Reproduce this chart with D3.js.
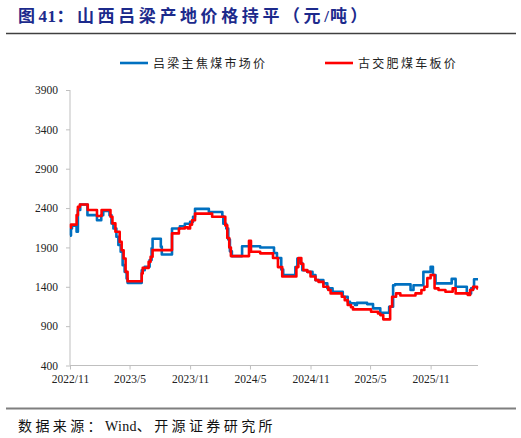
<!DOCTYPE html>
<html>
<head>
<meta charset="utf-8">
<script src="https://cdn.jsdelivr.net/npm/d3@7"></script>
<style>
  html, body { margin: 0; padding: 0; background: #fff; }
  svg { display: block; }
</style>
</head>
<body>
<div id="main"></div>
<script>
// series: change points [date, price], drawn as steps
var seriesNames = ["吕梁主焦煤市场价", "古交肥煤车板价"];
var seriesColors = ["#0070C0", "#FF0000"];

var lvliang = [
  ["2022-11-01", 2050], ["2022-11-04", 2140], ["2022-11-07", 2175], ["2022-11-21", 2100],
  ["2022-11-25", 2375], ["2022-12-02", 2445], ["2022-12-24", 2310], ["2023-01-22", 2245],
  ["2023-02-04", 2310], ["2023-02-10", 2365], ["2023-03-01", 2310], ["2023-03-07", 2205],
  ["2023-03-13", 2140], ["2023-03-22", 2035], ["2023-03-28", 1930], ["2023-04-04", 1845],
  ["2023-04-10", 1675], ["2023-04-16", 1590], ["2023-04-22", 1505], ["2023-04-25", 1450],
  ["2023-06-07", 1610], ["2023-06-16", 1655], ["2023-07-01", 1740], ["2023-07-07", 1890],
  ["2023-07-10", 2010], ["2023-08-04", 1910], ["2023-08-07", 1810], ["2023-09-07", 2140],
  ["2023-10-01", 2170], ["2023-10-16", 2200], ["2023-11-01", 2225], ["2023-11-10", 2290],
  ["2023-11-16", 2390], ["2023-12-28", 2350], ["2024-02-07", 2300], ["2024-02-10", 2200],
  ["2024-02-19", 2140], ["2024-02-25", 2000], ["2024-03-01", 1850], ["2024-03-07", 1790],
  ["2024-04-07", 1915], ["2024-06-01", 1900], ["2024-07-13", 1830], ["2024-07-22", 1765],
  ["2024-08-04", 1620], ["2024-08-10", 1550], ["2024-09-16", 1650], ["2024-09-22", 1760],
  ["2024-10-01", 1700], ["2024-10-07", 1610], ["2024-10-22", 1590], ["2024-11-07", 1550],
  ["2024-11-16", 1485], ["2024-12-10", 1443], ["2024-12-22", 1380], ["2025-01-07", 1337],
  ["2025-02-07", 1273], ["2025-02-22", 1210], ["2025-03-01", 1190], ["2025-03-16", 1168],
  ["2025-03-22", 1195], ["2025-04-22", 1180], ["2025-05-10", 1126], ["2025-06-01", 1070],
  ["2025-06-28", 1146], ["2025-07-10", 1420], ["2025-07-16", 1430], ["2025-09-01", 1360],
  ["2025-09-10", 1420], ["2025-10-10", 1590], ["2025-11-01", 1655], ["2025-11-08", 1550],
  ["2025-11-16", 1443], ["2026-01-04", 1500], ["2026-01-16", 1400], ["2026-02-19", 1316],
  ["2026-03-04", 1380], ["2026-03-13", 1495], ["2026-03-25", 1495]
];

var gujiao = [
  ["2022-11-01", 2150], ["2022-11-04", 2190], ["2022-11-21", 2310], ["2022-11-25", 2415],
  ["2022-12-01", 2445], ["2022-12-25", 2375], ["2023-01-22", 2300], ["2023-02-05", 2375],
  ["2023-03-04", 2290], ["2023-03-10", 2205], ["2023-03-19", 2100], ["2023-04-01", 1970],
  ["2023-04-07", 1865], ["2023-04-13", 1760], ["2023-04-19", 1590], ["2023-04-25", 1470],
  ["2023-06-07", 1570], ["2023-06-10", 1640], ["2023-06-28", 1717], ["2023-07-04", 1780],
  ["2023-07-10", 1866], ["2023-09-07", 2078], ["2023-09-28", 2140], ["2023-10-16", 2155],
  ["2023-10-25", 2140], ["2023-11-01", 2190], ["2023-11-07", 2245], ["2023-11-16", 2330],
  ["2024-01-07", 2290], ["2024-02-16", 2180], ["2024-02-22", 2020], ["2024-02-28", 1900],
  ["2024-03-04", 1790], ["2024-04-28", 1985], ["2024-05-04", 1845], ["2024-06-01", 1825],
  ["2024-07-10", 1765], ["2024-07-25", 1650], ["2024-08-07", 1530], ["2024-09-19", 1650],
  ["2024-09-25", 1765], ["2024-10-04", 1690], ["2024-10-10", 1612], ["2024-10-22", 1590],
  ["2024-11-01", 1530], ["2024-11-16", 1485], ["2024-11-25", 1463], ["2024-12-10", 1400],
  ["2024-12-25", 1360], ["2025-01-01", 1316], ["2025-02-04", 1273], ["2025-02-13", 1230],
  ["2025-02-22", 1168], ["2025-03-04", 1140], ["2025-03-10", 1113], ["2025-05-04", 1083],
  ["2025-05-25", 1060], ["2025-06-01", 1040], ["2025-06-10", 986], ["2025-07-01", 1150],
  ["2025-07-07", 1273], ["2025-07-19", 1316], ["2025-08-01", 1290], ["2025-09-16", 1316],
  ["2025-10-04", 1360], ["2025-10-13", 1400], ["2025-10-22", 1510], ["2025-11-01", 1550],
  ["2025-11-13", 1380], ["2025-11-25", 1360], ["2025-12-16", 1337], ["2026-01-07", 1380],
  ["2026-01-16", 1316], ["2026-02-22", 1295], ["2026-03-01", 1360], ["2026-03-10", 1400],
  ["2026-03-22", 1380], ["2026-03-25", 1380]
];

var yTicks = [400, 900, 1400, 1900, 2400, 2900, 3400, 3900];
var xTicks = ["2022-11-01", "2023-05-01", "2023-11-01", "2024-05-01", "2024-11-01", "2025-05-01", "2025-11-01"];
var xDomain = ["2022-11-01", "2026-03-25"];

var W = 521, H = 438;
var parse = d3.timeParse("%Y-%m-%d");
var serif = "'Liberation Serif', 'Times New Roman', serif";
var cjk = "'Noto Sans CJK SC', sans-serif";

var svg = d3.select("#main").append("svg").attr("width", W).attr("height", H);

// text made of runs: [string, letterSpacing]
function runs(sel, parts) {
  parts.forEach(function(p) {
    sel.append("tspan").style("letter-spacing", p[1] + "px").text(p[0]);
  });
}

// header
var title = svg.append("text")
  .attr("x", 18).attr("y", 22)
  .attr("fill", "#1C2A8C")
  .style("font-family", serif + ", " + cjk)
  .style("font-size", "17px").style("font-weight", "bold");
runs(title, [["图", 3.4], ["41", 0.5], ["：山西吕梁产地价格持平（元", 3.6], ["/", 1], ["吨）", 3.4]]);

svg.append("line").attr("x1", 6).attr("x2", 516).attr("y1", 33.5).attr("y2", 33.5)
  .attr("stroke", "#404040").attr("stroke-width", 1.5);

// scales
var x = d3.scaleTime().domain(xDomain.map(parse)).range([70, 478]);
var y = d3.scaleLinear().domain([400, 3900]).range([365.5, 90]);

var axisColor = "#BFBFBF";

var yAxis = svg.append("g").attr("transform", "translate(70,0)")
  .call(d3.axisLeft(y).tickValues(yTicks).tickSize(4).tickFormat(d3.format("d")));
var xAxis = svg.append("g").attr("transform", "translate(0,365.5)")
  .call(d3.axisBottom(x).tickValues(xTicks.map(parse)).tickSize(4).tickFormat(d3.timeFormat("%Y/%-m")));

[yAxis, xAxis].forEach(function(g) {
  g.select(".domain").attr("stroke", axisColor);
  g.selectAll(".tick line").attr("stroke", axisColor);
  g.selectAll(".tick text").attr("fill", "#222")
    .style("font-family", serif).style("font-size", "11.5px");
});
// plain domain lines, no end caps
xAxis.select(".domain").attr("d", "M70,0H478");
yAxis.select(".domain").attr("d", "M0," + y(3900) + "V" + y(400));
yAxis.selectAll(".tick text").attr("x", -12);
xAxis.selectAll(".tick text").attr("y", 9);

// lines
var line = d3.line()
  .x(function(d) { return x(parse(d[0])); })
  .y(function(d) { return y(d[1]); })
  .curve(d3.curveStepAfter);

[lvliang, gujiao].forEach(function(data, i) {
  svg.append("path").datum(data)
    .attr("fill", "none")
    .attr("stroke", seriesColors[i])
    .attr("stroke-width", 2.6)
    .attr("stroke-linejoin", "round")
    .attr("d", line);
});

// legend
var legendX = [120, 325];
seriesNames.forEach(function(name, i) {
  var g = svg.append("g").attr("transform", "translate(" + legendX[i] + ",63)");
  g.append("line").attr("x1", 0).attr("x2", 28).attr("y1", 0).attr("y2", 0)
    .attr("stroke", seriesColors[i]).attr("stroke-width", 2.6);
  g.append("text").attr("x", 33).attr("y", 4.5)
    .attr("fill", "#222")
    .style("font-family", cjk).style("font-size", "12px")
    .style("letter-spacing", "2.3px")
    .text(name);
});

// footer
svg.append("line").attr("x1", 6).attr("x2", 516).attr("y1", 408.5).attr("y2", 408.5)
  .attr("stroke", "#7F7F7F").attr("stroke-width", 2);

var source = svg.append("text")
  .attr("x", 18).attr("y", 431)
  .attr("fill", "#111")
  .style("font-family", serif + ", " + cjk)
  .style("font-size", "14px");
runs(source, [["数据来源：", 3.4], ["Wind", 0.3], ["、开源证券研究所", 3.4]]);
</script>
</body>
</html>
